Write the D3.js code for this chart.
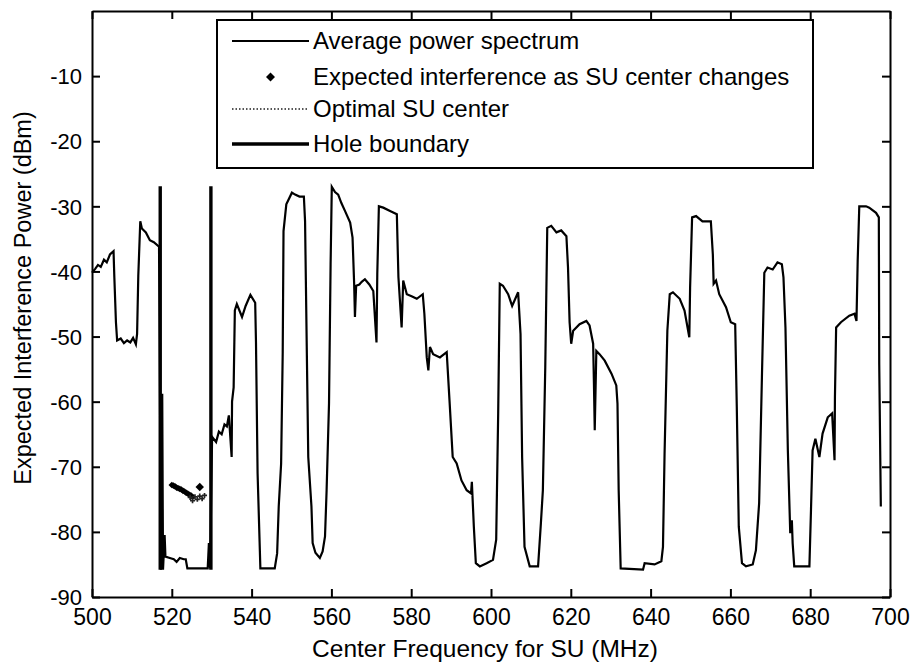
<!DOCTYPE html>
<html>
<head>
<meta charset="utf-8">
<script src="https://cdn.jsdelivr.net/npm/d3@7"></script>
<style>
  html, body { margin: 0; padding: 0; background: #fff; }
  svg { display: block; }
  text { font-family: "Liberation Sans", Arial, Helvetica, sans-serif; fill: #000; }
</style>
</head>
<body>
<svg id="chart" width="913" height="667"></svg>
<script>
// ---------------- DATA ----------------
const freqMHz = [
  500.0, 500.8, 501.5, 502.2, 503.0, 503.7, 504.5, 505.4, 505.6, 506.0, 506.3, 507.2, 508.0, 508.8, 509.6, 510.3, 511.0, 511.3, 511.6, 512.1,
  512.5, 513.5, 514.5, 515.5, 516.8, 517.3, 517.6, 517.8, 518.2, 518.4, 519.5, 520.5, 521.2, 522.0, 523.0, 523.5, 523.9, 529.0, 529.3, 529.6,
  530.1, 531.1, 531.8, 532.5, 533.2, 533.8, 534.3, 535.0, 535.1, 535.5, 535.8, 536.3, 537.6, 538.5, 539.7, 540.9, 541.1, 541.5, 542.2, 545.8,
  546.4, 546.8, 547.4, 547.8, 548.0, 548.7, 550.1, 550.9, 552.0, 553.1, 553.4, 553.8, 554.2, 555.0, 555.3, 556.0, 557.1, 557.8, 558.4, 558.8,
  559.4, 559.8, 560.1, 560.9, 561.7, 562.5, 563.4, 564.7, 565.3, 565.7, 565.9, 566.2, 567.0, 567.6, 568.4, 569.5, 570.5, 571.3, 571.5, 571.9,
  573.0, 574.7, 576.4, 576.8, 577.6, 578.0, 578.9, 580.1, 581.4, 582.9, 583.3, 583.9, 584.3, 584.7, 585.5, 587.2, 588.9, 589.6, 590.4, 591.4,
  592.6, 593.9, 595.0, 595.2, 595.7, 596.2, 597.2, 598.9, 600.5, 601.3, 601.8, 602.2, 603.0, 604.3, 605.3, 606.8, 607.4, 607.8, 608.4, 609.7,
  611.8, 612.5, 613.0, 613.6, 614.1, 615.1, 616.4, 617.6, 618.9, 619.3, 619.7, 620.1, 620.6, 622.2, 623.9, 624.7, 625.6, 625.8, 626.0, 626.4,
  627.2, 628.5, 630.2, 631.4, 631.7, 632.0, 632.5, 638.1, 638.5, 641.0, 642.7, 643.1, 643.5, 644.2, 644.8, 645.6, 647.3, 648.5, 649.7, 649.9,
  650.4, 651.4, 653.0, 655.1, 655.6, 655.8, 656.4, 657.2, 658.9, 660.1, 661.2, 661.6, 662.1, 662.9, 663.9, 665.6, 666.4, 667.2, 667.9, 668.5,
  669.3, 670.6, 671.8, 672.9, 673.3, 673.8, 674.4, 675.0, 675.4, 675.6, 676.0, 679.8, 680.2, 680.6, 681.3, 682.3, 683.1, 684.4, 685.5, 686.1,
  686.2, 686.5, 687.7, 689.8, 691.1, 691.6, 691.9, 692.3, 694.0, 694.8, 696.5, 697.2, 697.3, 697.7
];
const avgPowerDbm = [
  -40.2, -39.6, -39.0, -39.3, -38.2, -38.6, -37.4, -36.9, -40.9, -47.8, -50.6, -50.3, -51.0, -50.6, -50.9, -50.2, -51.2, -49.6, -40.7, -32.3,
  -33.4, -34.0, -35.2, -35.5, -36.2, -85.8, -58.8, -85.8, -80.5, -83.8, -84.0, -84.2, -84.6, -84.0, -84.2, -84.2, -85.6, -85.6, -81.7, -85.6,
  -65.4, -66.2, -64.6, -65.0, -63.5, -63.8, -62.1, -68.5, -60.0, -57.8, -46.0, -45.0, -47.0, -45.3, -43.6, -44.8, -50.9, -71.0, -85.6, -85.6,
  -83.3, -76.1, -69.5, -52.4, -33.8, -29.7, -27.9, -28.2, -28.5, -28.5, -32.3, -50.6, -68.5, -76.1, -81.7, -83.2, -84.0, -83.0, -80.7, -73.6,
  -60.3, -38.9, -27.0, -27.8, -28.2, -29.5, -30.7, -32.5, -34.8, -41.9, -47.0, -42.2, -42.0, -41.6, -41.2, -42.0, -43.0, -50.9, -40.4, -30.0,
  -30.2, -30.7, -31.2, -40.9, -48.6, -41.4, -43.5, -43.8, -44.2, -43.5, -46.5, -53.2, -55.2, -51.6, -52.7, -53.2, -52.4, -59.8, -68.5, -69.5,
  -72.1, -73.6, -74.1, -72.3, -79.2, -84.8, -85.3, -84.8, -84.3, -81.2, -61.8, -41.9, -42.2, -43.5, -45.3, -43.2, -49.6, -68.5, -82.3, -85.3,
  -85.3, -78.7, -73.6, -54.7, -33.3, -33.0, -34.0, -33.7, -34.6, -39.4, -47.8, -51.1, -49.1, -48.1, -47.6, -48.3, -51.1, -57.3, -64.4, -52.2,
  -52.7, -53.7, -55.7, -57.5, -60.3, -73.6, -85.6, -85.8, -84.8, -85.0, -84.5, -82.3, -68.0, -49.1, -43.5, -43.2, -44.2, -46.0, -50.1, -42.5,
  -31.7, -31.5, -32.3, -32.3, -37.4, -41.9, -41.4, -43.5, -45.5, -47.8, -48.1, -60.8, -79.2, -84.8, -85.3, -85.0, -82.8, -75.6, -56.2, -40.2,
  -39.4, -39.7, -38.6, -38.9, -40.9, -48.6, -67.5, -80.2, -78.2, -81.7, -85.3, -85.3, -76.6, -67.5, -65.7, -68.5, -64.9, -62.4, -61.8, -69.0,
  -59.3, -48.6, -47.8, -46.8, -46.5, -47.6, -38.4, -30.0, -30.0, -30.2, -31.0, -31.7, -54.2, -76.1
];
// Expected interference as the SU center changes (diamonds)
const suCenterMHz = [520.0, 520.4, 520.8, 521.2, 521.6, 522.0, 522.4, 522.8, 523.2, 523.6, 524.0, 524.4, 524.8, 525.2, 527.0];
const expInterfDbm = [-72.8, -72.9, -73.0, -73.2, -73.3, -73.4, -73.5, -73.7, -73.8, -74.0, -74.1, -74.3, -74.4, -74.6, -73.1];
// Optimal SU center (speckled dotted marker)
const optimalMHz = [524.6, 525.2, 525.8, 526.4, 527.0, 527.6, 528.2];
const optimalDbm = [-74.7, -75.2, -74.6, -75.0, -74.5, -74.9, -74.4];
// Hole boundaries
const holeBoundMHz = [517.1, 529.8];
const holeBoundRange = [-85.8, -26.9];
// Ticks
const xTicks = [500, 520, 540, 560, 580, 600, 620, 640, 660, 680, 700];
const yTicks = [-90, -80, -70, -60, -50, -40, -30, -20, -10];
const legendLabels = ["Average power spectrum", "Expected interference as SU center changes", "Optimal SU center", "Hole boundary"];

// ---------------- LAYOUT ----------------
const svg = d3.select("#chart");
const L = 92, T = 11, R = 890, B = 597;
const x = d3.scaleLinear().domain([500, 700]).range([L, R]);
const y = d3.scaleLinear().domain([-90, 0]).range([B, T]);

svg.append("rect").attr("width", 913).attr("height", 667).attr("fill", "#fff");

// spectrum line
const spectrum = freqMHz.map((f, i) => [f, avgPowerDbm[i]]);
const line = d3.line().x(d => x(d[0])).y(d => y(d[1]));
svg.append("path").datum(spectrum)
  .attr("d", line).attr("fill", "none").attr("stroke", "#000")
  .attr("stroke-width", 2.2).attr("stroke-linejoin", "miter");

// hole boundaries
svg.selectAll(".hole").data(holeBoundMHz).enter().append("line")
  .attr("x1", d => x(d)).attr("x2", d => x(d))
  .attr("y1", y(holeBoundRange[0])).attr("y2", y(holeBoundRange[1]))
  .attr("stroke", "#000").attr("stroke-width", 3.4);

// diamonds (square rotated 45°, MATLAB style)
const sq = d3.symbol().type(d3.symbolSquare);
svg.selectAll(".dia").data(suCenterMHz.map((f, i) => [f, expInterfDbm[i]])).enter().append("path")
  .attr("d", (d, i) => sq.size(i === suCenterMHz.length - 1 ? 36 : 22)())
  .attr("transform", d => `translate(${x(d[0])},${y(d[1])}) rotate(45)`)
  .attr("fill", "#000");

// optimal SU center speckles
svg.selectAll(".opt").data(optimalMHz.map((f, i) => [f, optimalDbm[i]])).enter().append("path")
  .attr("d", d3.symbol().type(d3.symbolCross).size(14)())
  .attr("transform", d => `translate(${x(d[0])},${y(d[1])})`)
  .attr("fill", "#222");

// axes (inward ticks on all four sides)
const fmt = d => String(d);
const gBottom = svg.append("g").attr("transform", `translate(0,${B})`)
  .call(d3.axisBottom(x).tickValues(xTicks).tickSize(-8).tickSizeOuter(0).tickPadding(12).tickFormat(fmt));
const gTop = svg.append("g").attr("transform", `translate(0,${T})`)
  .call(d3.axisTop(x).tickValues(xTicks).tickSize(-8).tickSizeOuter(0).tickFormat(""));
const gLeft = svg.append("g").attr("transform", `translate(${L},0)`)
  .call(d3.axisLeft(y).tickValues(yTicks).tickSize(-8).tickSizeOuter(0).tickPadding(10).tickFormat(fmt));
const gRight = svg.append("g").attr("transform", `translate(${R},0)`)
  .call(d3.axisRight(y).tickValues(yTicks).tickSize(-8).tickSizeOuter(0).tickFormat(""));

[gBottom, gTop, gLeft, gRight].forEach(g => {
  g.select(".domain").attr("stroke", "#000").attr("stroke-width", 2);
  g.selectAll(".tick line").attr("stroke", "#000").attr("stroke-width", 2);
  g.selectAll("text").style("font-family", '"Liberation Sans", Arial, sans-serif')
    .attr("fill", "#000");
});
gBottom.selectAll("text").attr("font-size", 23).attr("dy", "0.71em");
gLeft.selectAll("text").attr("font-size", 22).attr("dy", "0.35em");

// axis labels
svg.append("text").attr("x", 485).attr("y", 657)
  .attr("text-anchor", "middle").attr("font-size", 24.5)
  .text("Center Frequency for SU (MHz)");
svg.append("text").attr("transform", `translate(31,${298}) rotate(-90)`)
  .attr("text-anchor", "middle").attr("font-size", 23.5)
  .text("Expected Interference Power (dBm)");

// legend
const lg = svg.append("g");
lg.append("rect").attr("x", 217).attr("y", 20).attr("width", 596).attr("height", 148)
  .attr("fill", "#fff").attr("stroke", "#000").attr("stroke-width", 2);
const rowsY = [41, 77, 109, 144];
const sx0 = 232, sx1 = 309, tx = 313;
lg.append("line").attr("x1", sx0).attr("x2", sx1).attr("y1", rowsY[0]).attr("y2", rowsY[0])
  .attr("stroke", "#000").attr("stroke-width", 2);
lg.append("path").attr("d", d3.symbol().type(d3.symbolSquare).size(40)())
  .attr("transform", `translate(${(sx0 + sx1) / 2},${rowsY[1]}) rotate(45)`).attr("fill", "#000");
lg.append("line").attr("x1", sx0).attr("x2", sx1).attr("y1", rowsY[2]).attr("y2", rowsY[2])
  .attr("stroke", "#555").attr("stroke-width", 2).attr("stroke-dasharray", "1.5,2");
lg.append("line").attr("x1", sx0).attr("x2", sx1).attr("y1", rowsY[3]).attr("y2", rowsY[3])
  .attr("stroke", "#000").attr("stroke-width", 3.4);
lg.selectAll(".lt").data(legendLabels).enter().append("text")
  .attr("x", tx).attr("y", (d, i) => rowsY[i]).attr("dy", "0.33em")
  .attr("font-size", 24).text(d => d);
</script>
</body>
</html>
